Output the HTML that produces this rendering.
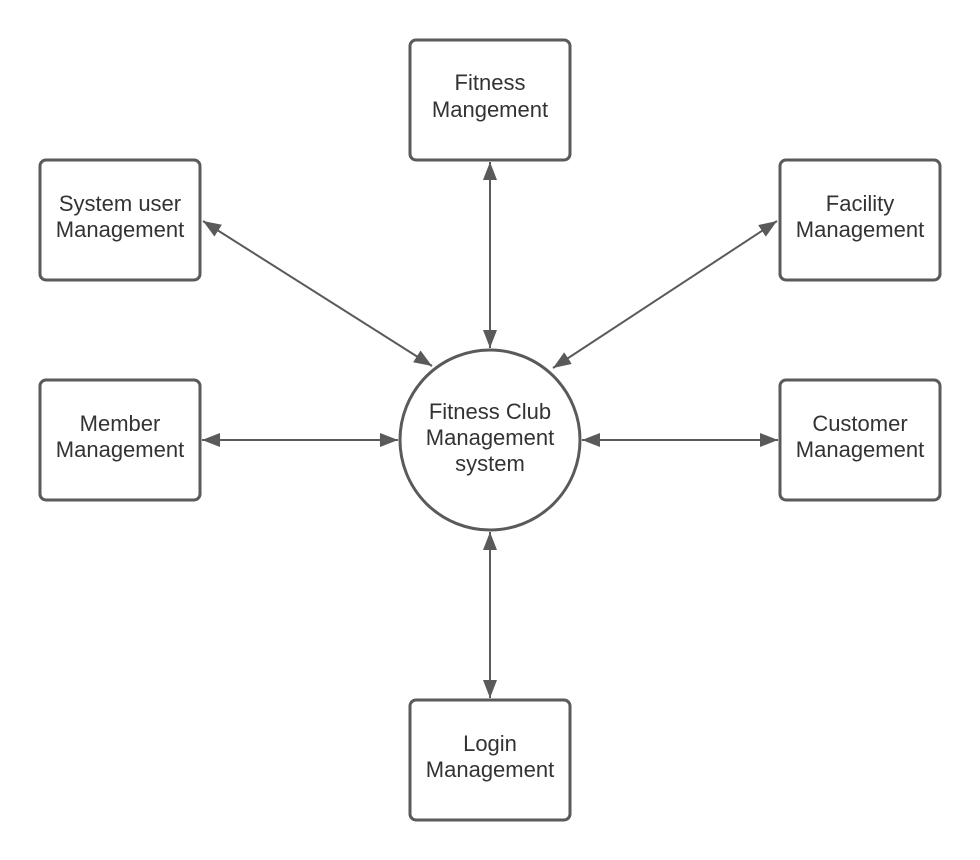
<!DOCTYPE html>
<html><head><style>
html,body{margin:0;padding:0;background:#fff;}
svg{display:block;}
text{font-family:"Liberation Sans",sans-serif;font-size:22px;fill:#333;text-anchor:middle;}
</style></head><body>
<svg width="980" height="860" viewBox="0 0 980 860">
<defs>
<marker id="a" markerWidth="18" markerHeight="14" refX="18" refY="7" orient="auto-start-reverse" markerUnits="userSpaceOnUse">
<path d="M0,0 L18,7 L0,14 Z" fill="#5a5a5a"/>
</marker>
</defs>
<g fill="#fff" stroke="#5a5a5a" stroke-width="3">
<rect x="410" y="40" width="160" height="120" rx="6"/>
<rect x="40" y="160" width="160" height="120" rx="6"/>
<rect x="780" y="160" width="160" height="120" rx="6"/>
<rect x="40" y="380" width="160" height="120" rx="6"/>
<rect x="780" y="380" width="160" height="120" rx="6"/>
<rect x="410" y="700" width="160" height="120" rx="6"/>
<circle cx="490" cy="440" r="90"/>
</g>
<g stroke="#5a5a5a" stroke-width="2" marker-start="url(#a)" marker-end="url(#a)">
<line x1="490" y1="162" x2="490" y2="348"/>
<line x1="490" y1="532" x2="490" y2="698"/>
<line x1="202" y1="440" x2="398" y2="440"/>
<line x1="582" y1="440" x2="778" y2="440"/>
<line x1="203" y1="221" x2="432" y2="366"/>
<line x1="777" y1="221" x2="553" y2="368"/>
</g>
<text x="490" y="90">Fitness</text><text x="490" y="117">Mangement</text>
<text x="120" y="211">System user</text><text x="120" y="237">Management</text>
<text x="860" y="211">Facility</text><text x="860" y="237">Management</text>
<text x="120" y="431">Member</text><text x="120" y="457">Management</text>
<text x="860" y="431">Customer</text><text x="860" y="457">Management</text>
<text x="490" y="751">Login</text><text x="490" y="777">Management</text>
<text x="490" y="419">Fitness Club</text><text x="490" y="445">Management</text><text x="490" y="471">system</text>
</svg>
</body></html>
